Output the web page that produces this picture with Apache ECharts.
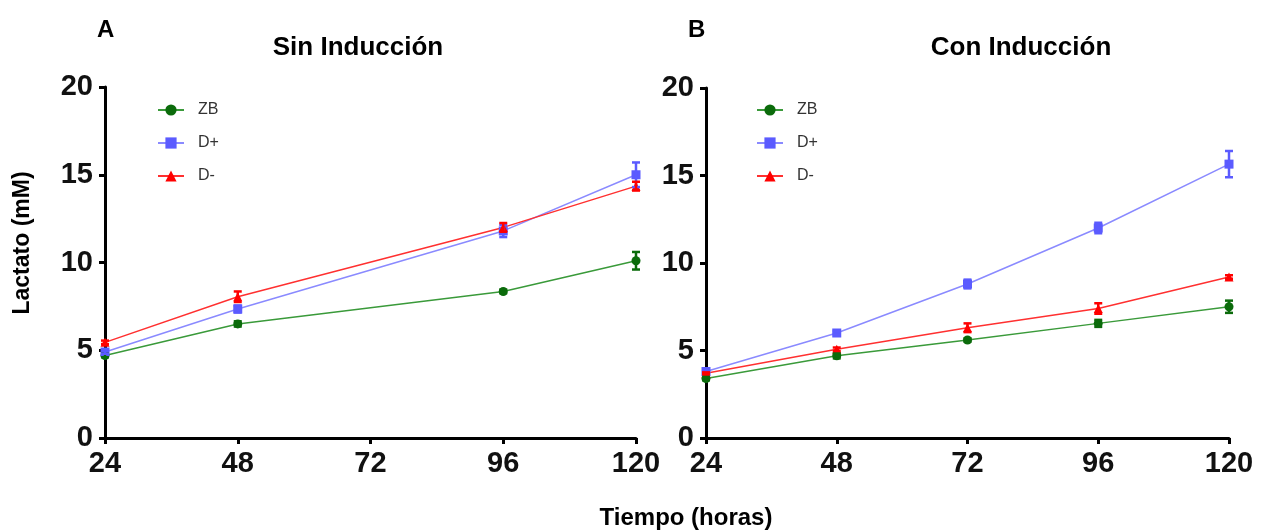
<!DOCTYPE html>
<html><head><meta charset="utf-8">
<script src="https://cdn.jsdelivr.net/npm/echarts@6/dist/echarts.min.js"></script>
<style>html,body{margin:0;padding:0;background:#fff}#c{width:1270px;height:530px}</style>
</head><body><div id="c"></div>
<script>
const hoursA = [24, 48, 96, 120];
const hoursB = [24, 48, 72, 96, 120];
const xTicks = [24, 48, 72, 96, 120];
const yTicks = [0, 5, 10, 15, 20];
const seriesNames = ['ZB', 'D+', 'D-'];
const A_ZB = [4.7, 6.5, 8.35, 10.1];
const A_ZB_err = [0.1, 0.15, 0.1, 0.5];
const A_Dp = [4.9, 7.35, 11.8, 15.0];
const A_Dp_err = [0.1, 0.2, 0.35, 0.7];
const A_Dm = [5.45, 8.05, 12.0, 14.35];
const A_Dm_err = [0.1, 0.3, 0.25, 0.25];
const B_ZB = [3.4, 4.7, 5.6, 6.55, 7.5];
const B_ZB_err = [0.1, 0.15, 0.1, 0.2, 0.35];
const B_Dp = [3.8, 6.0, 8.8, 12.0, 15.65];
const B_Dp_err = [0.1, 0.1, 0.25, 0.3, 0.75];
const B_Dm = [3.7, 5.07, 6.3, 7.4, 9.2];
const B_Dm_err = [0.05, 0.1, 0.25, 0.3, 0.1];

const styles = {
  'ZB': {line: '#3a9a3a', mark: '#0b6b0b', symbol: 'circle', size: 9},
  'D+': {line: '#8a8aff', mark: '#5b5bff', symbol: 'rect', size: 9},
  'D-': {line: '#ff3030', mark: '#ff0000', symbol: 'triangle', size: 9}
};

function lineSeries(name, xs, ys, idx) {
  const s = styles[name];
  return {
    name: name, type: 'line', xAxisIndex: idx, yAxisIndex: idx,
    data: xs.map((x, i) => [x, ys[i]]),
    symbol: s.symbol, symbolSize: s.size,
    lineStyle: {color: s.line, width: 1.5},
    itemStyle: {color: s.mark},
    z: 3, animation: false
  };
}
function errSeries(name, xs, ys, es, idx) {
  const s = styles[name];
  return {
    name: name + '_err' + idx, type: 'custom', xAxisIndex: idx, yAxisIndex: idx,
    data: xs.map((x, i) => [x, ys[i] - es[i], ys[i] + es[i]]),
    renderItem: function (params, api) {
      const lo = api.coord([api.value(0), api.value(1)]);
      const hi = api.coord([api.value(0), api.value(2)]);
      const w = 4;
      const st = {stroke: s.mark, lineWidth: 2.5};
      return {type: 'group', children: [
        {type: 'line', shape: {x1: lo[0], y1: lo[1], x2: hi[0], y2: hi[1]}, style: st},
        {type: 'line', shape: {x1: lo[0] - w, y1: lo[1], x2: lo[0] + w, y2: lo[1]}, style: st},
        {type: 'line', shape: {x1: hi[0] - w, y1: hi[1], x2: hi[0] + w, y2: hi[1]}, style: st}
      ]};
    },
    z: 4, animation: false, silent: true
  };
}

const axisFont = {fontFamily: 'Liberation Sans', fontWeight: 'bold', fontSize: 29, color: '#111'};
function xAx(idx) {
  return {
    type: 'value', gridIndex: idx, min: 24, max: 120, interval: 24,
    axisLine: {lineStyle: {color: '#000', width: 3}},
    axisTick: {show: true, length: 6, lineStyle: {color: '#000', width: 3}},
    axisLabel: Object.assign({margin: 11}, axisFont),
    splitLine: {show: false}
  };
}
function yAx(idx) {
  return {
    type: 'value', gridIndex: idx, min: 0, max: 20, interval: 5,
    axisLine: {show: true, lineStyle: {color: '#000', width: 3}},
    axisTick: {show: true, length: 6, lineStyle: {color: '#000', width: 3}},
    axisLabel: Object.assign({margin: 12}, axisFont),
    splitLine: {show: false}
  };
}
const legendText = {fontFamily: 'Liberation Sans', fontSize: 16, color: '#333', padding: [0, 0, 0, 9]};
const titleFont = {fontFamily: 'Liberation Sans', fontWeight: 'bold', fontSize: 26, color: '#000'};
const letterFont = {fontFamily: 'Liberation Sans', fontWeight: 'bold', fontSize: 24, color: '#000'};

const chart = echarts.init(document.getElementById('c'), null, {renderer: 'canvas'});
chart.setOption({
  backgroundColor: '#fff',
  animation: false,
  title: [
    {text: 'A', left: 92, top: 13, textStyle: letterFont},
    {text: 'Sin Inducción', left: 353, top: 30, textAlign: 'center', textStyle: titleFont},
    {text: 'B', left: 683, top: 13, textStyle: letterFont},
    {text: 'Con Inducción', left: 1016, top: 30, textAlign: 'center', textStyle: titleFont},
    {text: 'Tiempo (horas)', left: 681, top: 501, textAlign: 'center',
     textStyle: {fontFamily: 'Liberation Sans', fontWeight: 'bold', fontSize: 24, color: '#000'}}
  ],
  graphic: [
    {type: 'text', x: 23, y: 243, rotation: Math.PI / 2,
     style: {text: 'Lactato (mM)', x: 0, y: 0, align: 'center', verticalAlign: 'middle',
             font: 'bold 23px "Liberation Sans"', fill: '#000'}}
  ],
  legend: [
    {data: seriesNames, orient: 'vertical', left: 152, top: 97, itemGap: 17, itemWidth: 26, itemHeight: 14, textStyle: legendText, selectedMode: false},
    {data: seriesNames, orient: 'vertical', left: 751, top: 97, itemGap: 17, itemWidth: 26, itemHeight: 14, textStyle: legendText, selectedMode: false}
  ],
  grid: [
    {left: 105, right: 634, top: 87, bottom: 92},
    {left: 706, right: 41, top: 88, bottom: 92}
  ],
  xAxis: [xAx(0), xAx(1)],
  yAxis: [yAx(0), yAx(1)],
  series: [
    lineSeries('ZB', hoursA, A_ZB, 0),
    lineSeries('D+', hoursA, A_Dp, 0),
    lineSeries('D-', hoursA, A_Dm, 0),
    errSeries('ZB', hoursA, A_ZB, A_ZB_err, 0),
    errSeries('D+', hoursA, A_Dp, A_Dp_err, 0),
    errSeries('D-', hoursA, A_Dm, A_Dm_err, 0),
    lineSeries('ZB', hoursB, B_ZB, 1),
    lineSeries('D+', hoursB, B_Dp, 1),
    lineSeries('D-', hoursB, B_Dm, 1),
    errSeries('ZB', hoursB, B_ZB, B_ZB_err, 1),
    errSeries('D+', hoursB, B_Dp, B_Dp_err, 1),
    errSeries('D-', hoursB, B_Dm, B_Dm_err, 1)
  ]
});
</script></body></html>
